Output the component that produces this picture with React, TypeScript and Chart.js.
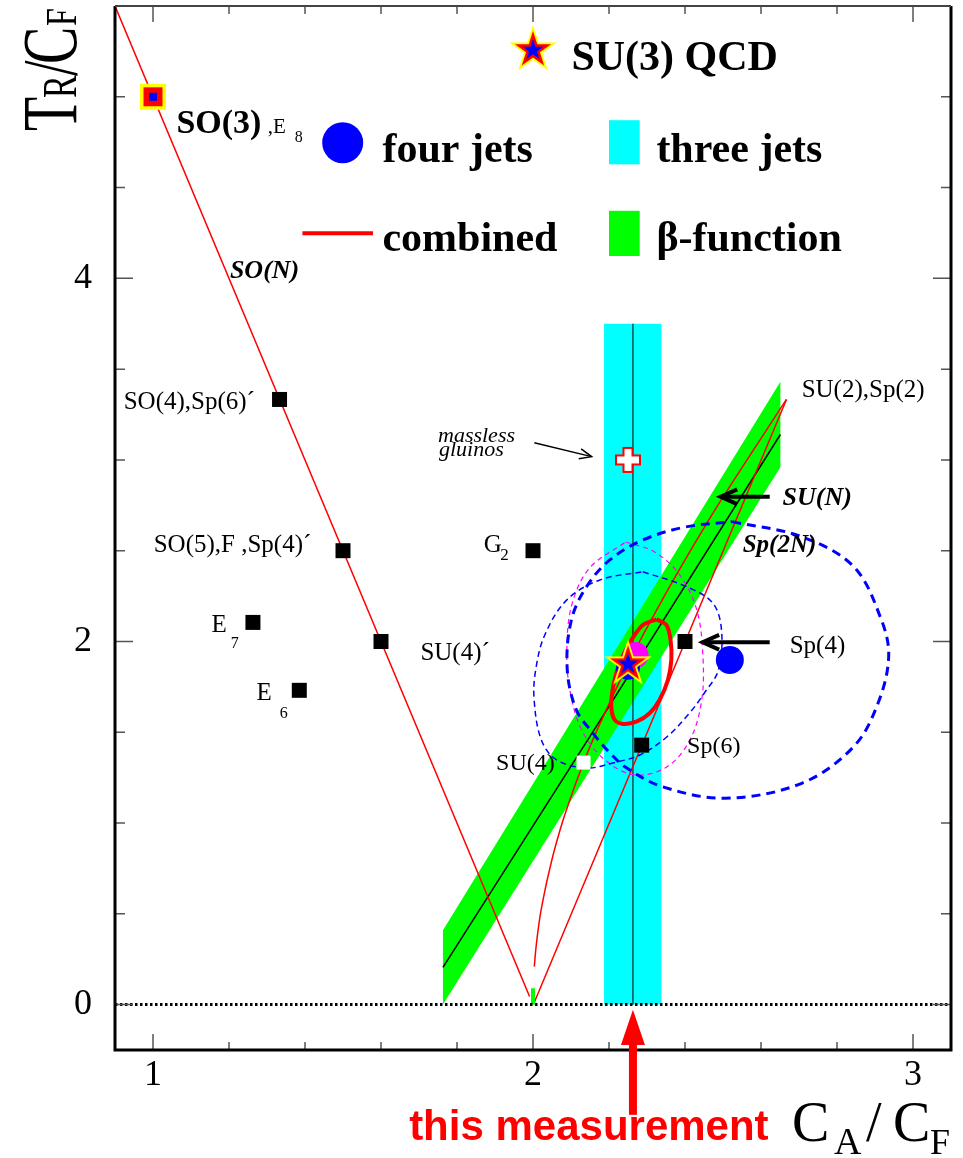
import { useEffect, useRef } from 'react';
import { Chart, registerables } from 'chart.js';

Chart.register(...registerables);

const SERIF = '"Liberation Serif", "Times New Roman", serif';
const SANS = '"Liberation Sans", Arial, sans-serif';

// ---- axes ----
const X_MIN = 0.9;
const X_MAX = 3.1;
const Y_MIN = -0.25;
const Y_MAX = 5.5;
const xLabelValues = [1, 2, 3];
const yLabelValues = [0, 2, 4];
const xTickValues = [1.0, 1.2, 1.4, 1.6, 1.8, 2.0, 2.2, 2.4, 2.6, 2.8, 3.0];
const yTickValues = [0, 0.5, 1.0, 1.5, 2.0, 2.5, 3.0, 3.5, 4.0, 4.5, 5.0];

// ---- group lines (C_A/C_F , T_R/C_F) ----
const soNLine = [
  { x: 0.9, y: 5.5 },
  { x: 1.991, y: 0.045 },
];
const sp2NLine = [
  { x: 2.003, y: 0.01 },
  { x: 2.667, y: 3.333 },
];
const suNCurve = [
  { x: 2.0035, y: 0.209 }, { x: 2.0056, y: 0.264 }, { x: 2.009, y: 0.335 },
  { x: 2.014, y: 0.42 }, { x: 2.02, y: 0.505 }, { x: 2.032, y: 0.635 },
  { x: 2.042, y: 0.729 }, { x: 2.057, y: 0.857 }, { x: 2.083, y: 1.042 },
  { x: 2.133, y: 1.333 }, { x: 2.178, y: 1.556 }, { x: 2.25, y: 1.875 },
  { x: 2.305, y: 2.095 }, { x: 2.381, y: 2.381 }, { x: 2.492, y: 2.769 },
  { x: 2.667, y: 3.333 },
];

// ---- beta-function band ----
const betaBand = [
  { x: 1.763, y: 0.0 }, { x: 1.763, y: 0.41 }, { x: 2.651, y: 3.43 },
  { x: 2.651, y: 2.96 }, { x: 1.763, y: 0.0 },
];
const betaCentre = [
  { x: 1.763, y: 0.205 }, { x: 2.211, y: 1.678 }, { x: 2.651, y: 3.14 },
];
const betaTick = [
  { x: 2.0, y: 0.0 }, { x: 2.0, y: 0.09 },
];

// ---- three jets band ----
const threeJetsBand = [
  { x: 2.187, y: 0.0 }, { x: 2.187, y: 3.75 }, { x: 2.338, y: 3.75 },
  { x: 2.338, y: 0.0 }, { x: 2.187, y: 0.0 },
];
const measurementLine = [
  { x: 2.263, y: 0.0 }, { x: 2.263, y: 3.75 },
];
const zeroLine = [
  { x: 0.9, y: 0.0 }, { x: 3.1, y: 0.0 },
];

// ---- four jets contours ----
const fourJetsWide = [
  { x: 2.524, y: 2.66 }, { x: 2.707, y: 2.577 }, { x: 2.844, y: 2.412 },
  { x: 2.917, y: 2.118 }, { x: 2.936, y: 1.916 }, { x: 2.908, y: 1.66 },
  { x: 2.844, y: 1.421 }, { x: 2.707, y: 1.219 }, { x: 2.506, y: 1.137 },
  { x: 2.341, y: 1.2 }, { x: 2.246, y: 1.304 }, { x: 2.202, y: 1.387 },
  { x: 2.157, y: 1.497 }, { x: 2.114, y: 1.623 }, { x: 2.09, y: 1.85 },
  { x: 2.101, y: 2.119 }, { x: 2.141, y: 2.302 }, { x: 2.202, y: 2.449 },
  { x: 2.289, y: 2.559 }, { x: 2.4, y: 2.63 }, { x: 2.524, y: 2.66 },
];
const fourJetsNarrow = [
  { x: 2.289, y: 2.384 }, { x: 2.404, y: 2.302 }, { x: 2.473, y: 2.212 },
  { x: 2.496, y: 2.064 }, { x: 2.488, y: 1.843 }, { x: 2.451, y: 1.716 },
  { x: 2.412, y: 1.606 }, { x: 2.352, y: 1.474 }, { x: 2.281, y: 1.375 },
  { x: 2.21, y: 1.331 }, { x: 2.141, y: 1.303 }, { x: 2.062, y: 1.348 },
  { x: 2.022, y: 1.457 }, { x: 2.003, y: 1.678 }, { x: 2.007, y: 1.843 },
  { x: 2.031, y: 2.036 }, { x: 2.089, y: 2.229 }, { x: 2.176, y: 2.339 },
  { x: 2.289, y: 2.384 },
];
const magentaContour = [
  { x: 2.244, y: 2.548 }, { x: 2.32, y: 2.493 }, { x: 2.386, y: 2.367 },
  { x: 2.431, y: 2.174 }, { x: 2.447, y: 1.926 }, { x: 2.444, y: 1.678 },
  { x: 2.413, y: 1.458 }, { x: 2.352, y: 1.309 }, { x: 2.268, y: 1.265 },
  { x: 2.189, y: 1.348 }, { x: 2.128, y: 1.513 }, { x: 2.097, y: 1.733 },
  { x: 2.089, y: 1.953 }, { x: 2.102, y: 2.201 }, { x: 2.149, y: 2.405 },
  { x: 2.244, y: 2.548 },
];
const combinedContour = [
  { x: 2.325, y: 2.122 }, { x: 2.351, y: 2.091 }, { x: 2.362, y: 2.008 },
  { x: 2.364, y: 1.898 }, { x: 2.355, y: 1.788 }, { x: 2.333, y: 1.678 },
  { x: 2.307, y: 1.605 }, { x: 2.272, y: 1.558 }, { x: 2.237, y: 1.546 },
  { x: 2.215, y: 1.568 }, { x: 2.206, y: 1.641 }, { x: 2.211, y: 1.751 },
  { x: 2.228, y: 1.88 }, { x: 2.259, y: 2.008 }, { x: 2.289, y: 2.091 },
  { x: 2.325, y: 2.122 },
];

// ---- group points ----
// SO(4), SO(5), SU(4)', E7, E6, G2, Sp(4), Sp(6)
const groupPoints = [
  { x: 1.333, y: 3.333 }, { x: 1.5, y: 2.5 }, { x: 1.6, y: 2.0 },
  { x: 1.263, y: 2.105 }, { x: 1.385, y: 1.731 }, { x: 2.0, y: 2.5 },
  { x: 2.4, y: 2.0 }, { x: 2.286, y: 1.429 },
];
const su4Point = [{ x: 2.133, y: 1.333 }];
const so3Point = [{ x: 1.0, y: 5.0 }];
const qcdPoint = [{ x: 2.25, y: 1.875 }];
const gluinoPoint = [{ x: 2.25, y: 3.0 }];
const fourJetsFit = [{ x: 2.518, y: 1.898 }];
const magentaFit = [{ x: 2.27, y: 1.925 }];
const blueFit = [{ x: 2.25, y: 1.855 }];

function starPath(g: CanvasRenderingContext2D, cx: number, cy: number, R: number) {
  g.beginPath();
  for (let i = 0; i < 10; i++) {
    const r = i % 2 === 0 ? R : R * 0.382;
    const a = -Math.PI / 2 + (i * Math.PI) / 5;
    const px = cx + r * Math.cos(a);
    const py = cy + r * Math.sin(a);
    if (i === 0) g.moveTo(px, py);
    else g.lineTo(px, py);
  }
  g.closePath();
}
function drawQcdStar(g: CanvasRenderingContext2D, cx: number, cy: number) {
  starPath(g, cx, cy, 25);
  g.fillStyle = '#ffff00';
  g.fill();
  starPath(g, cx, cy, 19);
  g.fillStyle = '#ff0000';
  g.fill();
  starPath(g, cx, cy, 11);
  g.fillStyle = '#0000ff';
  g.fill();
}
function makeStar() {
  const c = document.createElement('canvas');
  c.width = 56;
  c.height = 56;
  drawQcdStar(c.getContext('2d')!, 28, 28);
  return c;
}
function makeCross() {
  const c = document.createElement('canvas');
  c.width = 30;
  c.height = 30;
  const g = c.getContext('2d')!;
  const a = 12, t = 4.5, cx = 15, cy = 15;
  g.beginPath();
  g.moveTo(cx - t, cy - a); g.lineTo(cx + t, cy - a); g.lineTo(cx + t, cy - t);
  g.lineTo(cx + a, cy - t); g.lineTo(cx + a, cy + t); g.lineTo(cx + t, cy + t);
  g.lineTo(cx + t, cy + a); g.lineTo(cx - t, cy + a); g.lineTo(cx - t, cy + t);
  g.lineTo(cx - a, cy + t); g.lineTo(cx - a, cy - t); g.lineTo(cx - t, cy - t);
  g.closePath();
  g.fillStyle = '#ffffff';
  g.fill();
  g.strokeStyle = '#ff0000';
  g.lineWidth = 2;
  g.stroke();
  return c;
}

function openArrow(g: CanvasRenderingContext2D, x1: number, y1: number, x2: number, y2: number, w: number, head: number, spread: number) {
  g.lineWidth = w;
  g.beginPath();
  g.moveTo(x1, y1);
  g.lineTo(x2, y2);
  g.stroke();
  const ang = Math.atan2(y2 - y1, x2 - x1);
  g.beginPath();
  g.moveTo(x2 - head * Math.cos(ang - spread), y2 - head * Math.sin(ang - spread));
  g.lineTo(x2, y2);
  g.lineTo(x2 - head * Math.cos(ang + spread), y2 - head * Math.sin(ang + spread));
  g.stroke();
}

const decorPlugin = {
  id: 'decor',
  afterDraw(chart: any) {
    const g: CanvasRenderingContext2D = chart.ctx;
    const a = chart.chartArea;
    const xs = chart.scales.x;
    const ys = chart.scales.y;
    const PX = (v: number) => xs.getPixelForValue(v);
    const PY = (v: number) => ys.getPixelForValue(v);
    const text = (s: string, x: number, y: number, font: string, color = '#000', align: CanvasTextAlign = 'left') => {
      g.font = font;
      g.fillStyle = color;
      g.textAlign = align;
      g.textBaseline = 'alphabetic';
      g.fillText(s, PX(x), PY(y));
    };
    g.save();

    // tick marks (inside frame, all four sides)
    g.strokeStyle = '#555';
    g.lineWidth = 1.5;
    g.beginPath();
    for (const v of xTickValues) {
      const p = PX(v);
      const L = xLabelValues.some((m) => Math.abs(m - v) < 1e-6) ? 16 : 8;
      g.moveTo(p, a.bottom); g.lineTo(p, a.bottom - L);
      g.moveTo(p, a.top); g.lineTo(p, a.top + L);
    }
    for (const v of yTickValues) {
      const p = PY(v);
      const L = yLabelValues.some((m) => Math.abs(m - v) < 1e-6) ? 18 : 10;
      g.moveTo(a.left, p); g.lineTo(a.left + L, p);
      g.moveTo(a.right, p); g.lineTo(a.right - L, p);
    }
    g.stroke();

    // frame
    g.strokeStyle = '#000';
    g.lineWidth = 3;
    g.beginPath();
    g.moveTo(a.left, a.top); g.lineTo(a.left, a.bottom); g.lineTo(a.right, a.bottom); g.lineTo(a.right, a.top);
    g.stroke();
    g.strokeStyle = '#444';
    g.lineWidth = 2;
    g.beginPath();
    g.moveTo(a.left, a.top); g.lineTo(a.right, a.top);
    g.stroke();

    // ---- legend ----
    drawQcdStar(g, PX(2.0), PY(5.257));
    const LB = `bold 42px ${SERIF}`;
    text('SU(3) QCD', 2.101, 5.147, LB);
    g.fillStyle = '#0000ff';
    g.beginPath();
    g.arc(PX(1.4992), PY(4.747), 20.5, 0, Math.PI * 2);
    g.fill();
    text('four jets', 1.6037, 4.642, LB);
    g.fillStyle = '#00ffff';
    g.fillRect(PX(2.2), PY(4.871), PX(2.2808) - PX(2.2), PY(4.628) - PY(4.871));
    text('three jets', 2.3247, 4.642, LB);
    g.strokeStyle = '#ff0000';
    g.lineWidth = 4;
    g.beginPath();
    g.moveTo(PX(1.3932), PY(4.248)); g.lineTo(PX(1.5789), PY(4.248));
    g.stroke();
    text('combined', 1.6037, 4.152, LB);
    g.fillStyle = '#00ff00';
    g.fillRect(PX(2.2), PY(4.372), PX(2.2808) - PX(2.2), PY(4.123) - PY(4.372));
    text('\u03b2-function', 2.3247, 4.152, LB);

    // ---- group labels ----
    const R25 = `25px ${SERIF}`;
    text('SO(3)', 1.0616, 4.799, `bold 34px ${SERIF}`);
    text(',E', 1.3018, 4.799, `21px ${SERIF}`);
    text('8', 1.3729, 4.752, `16px ${SERIF}`);
    text('SO(N)', 1.2024, 4.0, `italic bold 26px ${SERIF}`);
    text('SO(4),Sp(6)\u00b4', 0.9229, 3.279, R25);
    text('SO(5),F ,Sp(4)\u00b4', 1.0018, 2.493, R25);
    text('E', 1.1537, 2.054, R25);
    text('7', 1.2045, 1.963, `16px ${SERIF}`);
    text('E', 1.2721, 1.678, R25);
    text('6', 1.3334, 1.577, `16px ${SERIF}`);
    text('SU(4)\u00b4', 1.7037, 1.898, R25);
    text('G', 1.8703, 2.494, R25);
    text('2', 1.9137, 2.449, `17px ${SERIF}`);
    text('massless', 1.75, 3.1, `italic 22px ${SERIF}`);
    text('gluinos', 1.7526, 3.021, `italic 22px ${SERIF}`);
    text('SU(2),Sp(2)', 2.707, 3.348, R25);
    text('SU(N)', 2.6566, 2.752, `italic bold 26px ${SERIF}`);
    text('Sp(2N)', 2.5518, 2.493, `italic bold 25px ${SERIF}`);
    text('Sp(4)', 2.6755, 1.937, R25);
    text('Sp(6)', 2.4055, 1.386, `24px ${SERIF}`);
    text('SU(4)', 1.9029, 1.292, `24px ${SERIF}`);

    // arrows
    g.strokeStyle = '#000';
    g.lineCap = 'butt';
    openArrow(g, PX(2.0034), PY(3.095), PX(2.1542), PY(3.018), 1.5, 13, 0.4);
    openArrow(g, PX(2.623), PY(2.797), PX(2.494), PY(2.797), 4, 18, 0.42);
    openArrow(g, PX(2.6229), PY(1.9956), PX(2.4466), PY(1.9956), 4, 18, 0.42);

    // this measurement
    const mx = PX(2.263);
    g.fillStyle = '#ff0000';
    g.beginPath();
    g.moveTo(mx, PY(-0.029));
    g.lineTo(mx - 12, PY(-0.222));
    g.lineTo(mx + 12, PY(-0.222));
    g.closePath();
    g.fill();
    g.fillRect(mx - 4, PY(-0.222) - 1, 8, PY(-0.607) - PY(-0.222) + 1);
    text('this measurement', 2.147, -0.745, `bold 42px ${SANS}`, '#ff0000', 'center');

    // axis titles
    g.fillStyle = '#000';
    g.textAlign = 'left';
    g.textBaseline = 'alphabetic';
    const xt: [string, number, number, number][] = [
      ['C', 792, 1141, 56], ['A', 834, 1154, 38], ['/', 866, 1141, 56], ['C', 893, 1141, 56], ['F', 930, 1154, 36],
    ];
    for (const [s, x, y, f] of xt) {
      g.font = `${f}px ${SERIF}`;
      g.fillText(s, x, y);
    }
    g.save();
    g.translate(76, 131);
    g.rotate(-Math.PI / 2);
    g.scale(1, 1.4);
    const yt: [string, number, number][] = [['T', 56, 0], ['R', 34, 33], ['/', 56, 55], ['C', 56, 67], ['F', 32, 105]];
    for (const [s, f, u] of yt) {
      g.font = `${f}px ${SERIF}`;
      g.fillText(s, u, 0);
    }
    g.restore();

    g.restore();
  },
};

export default function App() {
  const ref = useRef<HTMLCanvasElement>(null);
  useEffect(() => {
    const canvas = ref.current!;
    const starImg = makeStar();
    const crossImg = makeCross();
    const lineDs = (data: any[], color: string, width: number, order: number, extra: any = {}) => ({
      type: 'line',
      data,
      borderColor: color,
      borderWidth: width,
      pointRadius: 0,
      showLine: true,
      fill: false,
      tension: 0,
      order,
      ...extra,
    });
    const pointDs = (data: any[], style: any, radius: number, color: string, order: number) => ({
      type: 'line',
      data,
      showLine: false,
      pointStyle: style,
      pointRadius: radius,
      pointBackgroundColor: color,
      pointBorderWidth: 0,
      pointBorderColor: color,
      order,
    });
    const chart = new Chart(canvas, {
      type: 'line',
      data: {
        datasets: [
          lineDs(threeJetsBand, 'transparent', 1, 100, { fill: 'shape', backgroundColor: '#00ffff' }),
          lineDs(betaBand, 'transparent', 1, 95, { fill: 'shape', backgroundColor: '#00ff00' }),
          lineDs(betaCentre, '#000000', 1.5, 90),
          lineDs(measurementLine, '#000000', 1, 88),
          lineDs(soNLine, '#ff0000', 1.5, 80),
          lineDs(sp2NLine, '#ff0000', 1.5, 80),
          lineDs(suNCurve, '#ff0000', 1.5, 80, { tension: 0.3 }),
          lineDs(betaTick, '#00ff00', 4, 79),
          lineDs(zeroLine, '#000000', 3, 78, { borderDash: [2.5, 2.5] }),
          lineDs(fourJetsWide, '#0000ff', 3, 70, { borderDash: [9, 6], tension: 0.35 }),
          lineDs(fourJetsNarrow, '#0000ff', 1.5, 70, { borderDash: [6, 4], tension: 0.35 }),
          lineDs(magentaContour, '#ff00ff', 1.2, 70, { borderDash: [5, 4], tension: 0.35 }),
          lineDs(combinedContour, '#ff0000', 4, 60, { tension: 0.3 }),
          pointDs(groupPoints, 'rect', 10.6, '#000000', 50),
          pointDs(su4Point, 'rect', 9.9, '#ffffff', 50),
          pointDs(so3Point, 'rect', 18.4, '#ffff00', 52),
          pointDs(so3Point, 'rect', 13.4, '#ff0000', 51),
          pointDs(so3Point, 'rect', 5.7, '#0000ff', 50),
          pointDs(gluinoPoint, crossImg, 10, '#ff0000', 45),
          pointDs(fourJetsFit, 'circle', 14, '#0000ff', 40),
          pointDs(magentaFit, 'circle', 13, '#ff00ff', 41),
          pointDs(blueFit, 'circle', 12, '#0000ff', 40),
          pointDs(qcdPoint, starImg, 10, '#ff0000', 10),
        ] as any,
      },
      options: {
        responsive: false,
        devicePixelRatio: 1,
        animation: false,
        events: [],
        layout: { autoPadding: false, padding: { top: 6, right: 12, left: 0, bottom: 0 } },
        plugins: { legend: { display: false }, tooltip: { enabled: false } },
        scales: {
          x: {
            type: 'linear',
            min: X_MIN,
            max: X_MAX,
            grid: { display: false, drawTicks: false },
            border: { display: false },
            ticks: {
              stepSize: 0.1,
              autoSkip: false,
              maxRotation: 0,
              padding: 4,
              color: '#000',
              font: { family: SERIF, size: 36 },
              callback: (v: any) => {
                const m = xLabelValues.find((t) => Math.abs(t - Number(v)) < 1e-6);
                return m === undefined ? '' : String(m);
              },
            },
            afterFit: (s: any) => {
              s.height = 108;
              s.paddingLeft = 0;
              s.paddingRight = 0;
            },
          },
          y: {
            type: 'linear',
            min: Y_MIN,
            max: Y_MAX,
            grid: { display: false, drawTicks: false },
            border: { display: false },
            ticks: {
              stepSize: 0.25,
              autoSkip: false,
              padding: 23,
              color: '#000',
              font: { family: SERIF, size: 36 },
              callback: (v: any) => {
                const m = yLabelValues.find((t) => Math.abs(t - Number(v)) < 1e-6);
                return m === undefined ? '' : String(m);
              },
            },
            afterFit: (s: any) => {
              s.width = 115;
              s.paddingTop = 0;
              s.paddingBottom = 0;
            },
          },
        },
      } as any,
      plugins: [decorPlugin],
    });
    return () => chart.destroy();
  }, []);
  return (
    <div style={{ position: 'absolute', left: 0, top: 0, width: 963, height: 1158, background: '#fff' }}>
      <canvas ref={ref} width={963} height={1158} style={{ display: 'block', width: 963, height: 1158 }} />
    </div>
  );
}
